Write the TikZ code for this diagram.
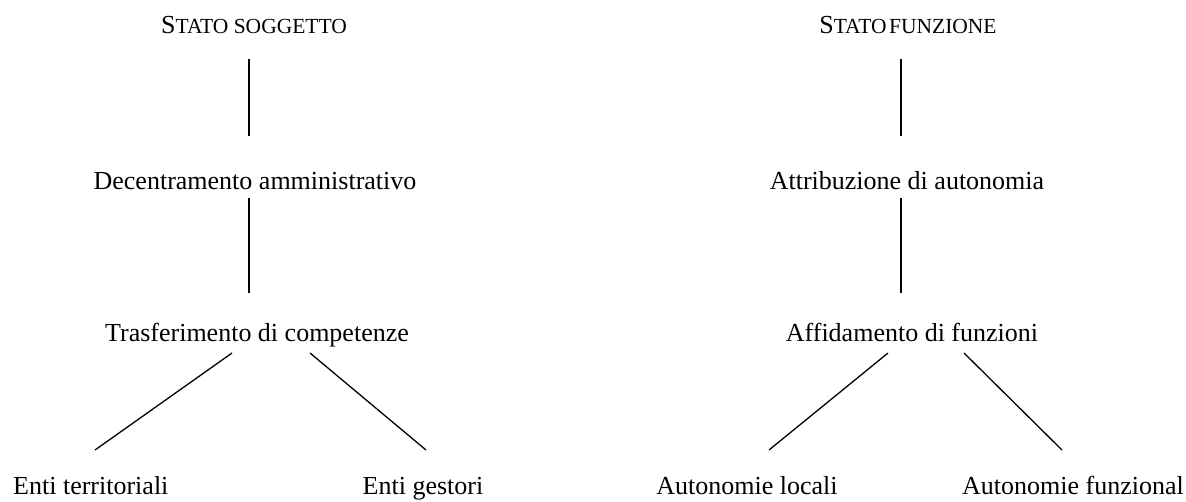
\documentclass[tikz,border=0pt]{standalone}
\usepackage{fontspec}
\setmainfont{Liberation Serif}
\newcommand\SCbig[1]{{\fontsize{26}{30}\selectfont #1}}
\newcommand\SCsmall[1]{{\fontsize{21.5}{25}\selectfont #1}}
\begin{document}
\begin{tikzpicture}[x=1pt,y=-1pt,
  lbl/.style={inner sep=0pt, anchor=base, font=\fontsize{26}{30}\selectfont},
  conn/.style={line width=1.3pt, black}]
\useasboundingbox (0,0) rectangle (1186,501);
% left tree
\node[lbl] (ss) at (254,33) {\SCbig{S}\SCsmall{TATO SOGGETTO}};
\node[lbl] (dec) at (255,189) {Decentramento amministrativo};
\node[lbl] (tra) at (257,341) {Trasferimento di competenze};
\node[lbl, anchor=base west] (ent) at (13,494) {Enti territoriali};
\node[lbl] (ges) at (423,494) {Enti gestori};
% right tree
\node[lbl] (sf) at (908,33) {\SCbig{S}\SCsmall{TATO\hspace{2.5pt}FUNZIONE}};
\node[lbl] (att) at (907,189) {Attribuzione di autonomia};
\node[lbl] (aff) at (912,341) {Affidamento di funzioni};
\node[lbl] (loc) at (747,494) {Autonomie locali};
\node[lbl, anchor=base west] (fun) at (962,494) {Autonomie funzional};
% connector ends
\coordinate (l1a) at (249,59);  \coordinate (l1b) at (249,136);
\coordinate (l2a) at (249,198); \coordinate (l2b) at (249,293);
\coordinate (l3a) at (232,353); \coordinate (l3b) at (95,450);
\coordinate (l4a) at (310,353); \coordinate (l4b) at (426,450);
\coordinate (r1a) at (901,59);  \coordinate (r1b) at (901,136);
\coordinate (r2a) at (901,198); \coordinate (r2b) at (901,293);
\coordinate (r3a) at (888,353); \coordinate (r3b) at (769,450);
\coordinate (r4a) at (964,353); \coordinate (r4b) at (1062,450);
\draw[conn] (l1a) -- (l1b);
\draw[conn] (l2a) -- (l2b);
\draw[conn] (l3a) -- (l3b);
\draw[conn] (l4a) -- (l4b);
\draw[conn] (r1a) -- (r1b);
\draw[conn] (r2a) -- (r2b);
\draw[conn] (r3a) -- (r3b);
\draw[conn] (r4a) -- (r4b);
\end{tikzpicture}
\end{document}
